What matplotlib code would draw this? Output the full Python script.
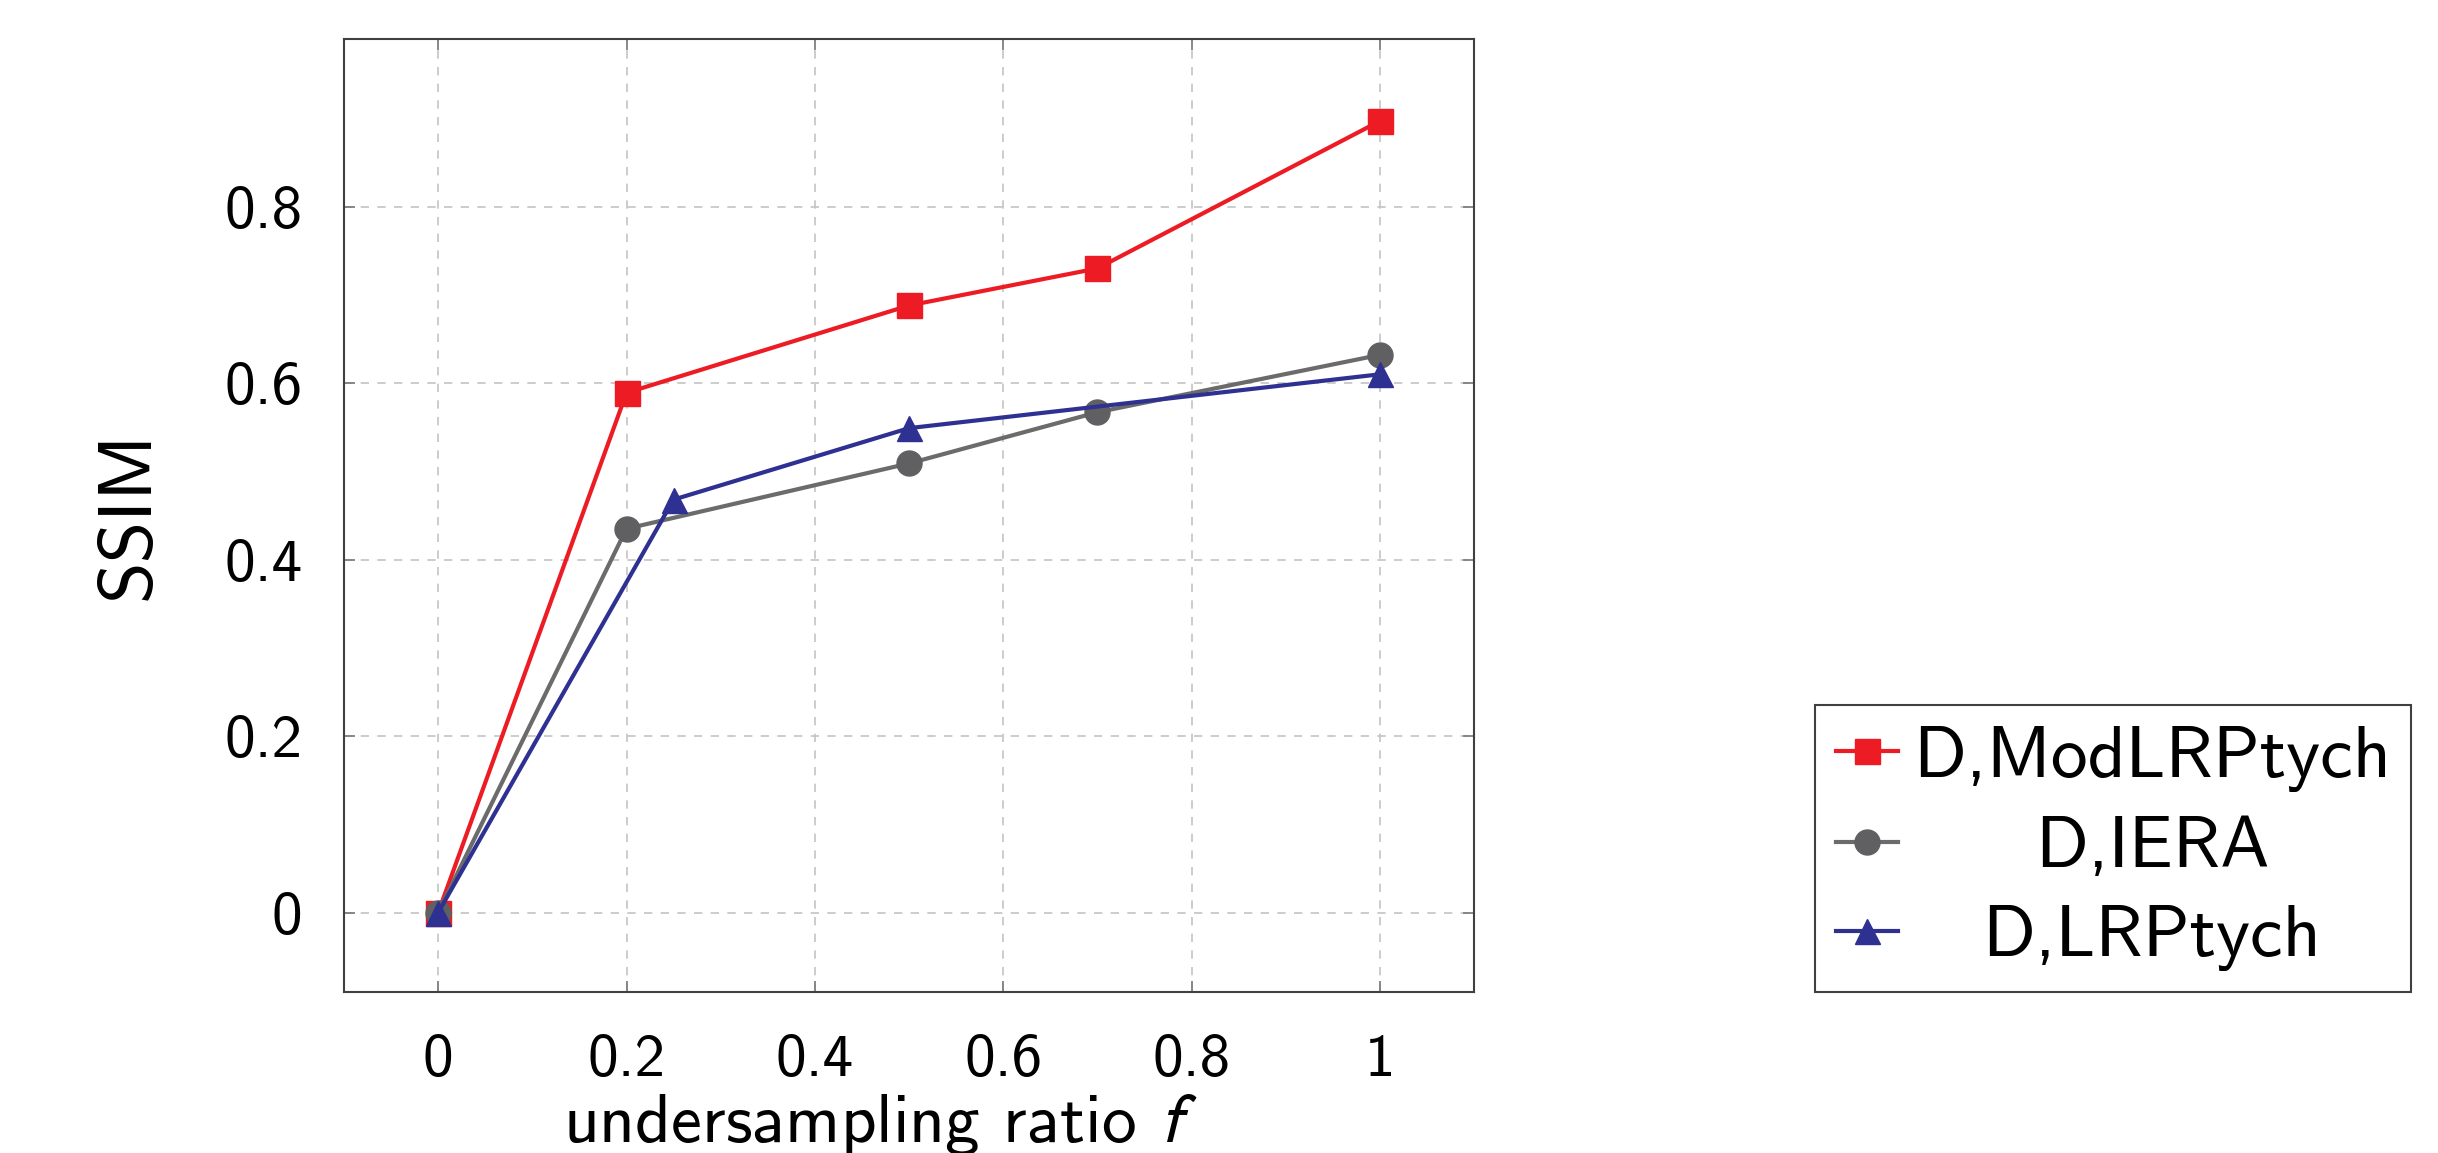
import matplotlib
matplotlib.use("Agg")
from matplotlib import pyplot as plt

# values
f_mod = [0, 0.2, 0.5, 0.7, 1.0]
ssim_mod = [0.0, 0.589, 0.688, 0.730, 0.897]

f_iera = [0, 0.2, 0.5, 0.7, 1.0]
ssim_iera = [0.0, 0.435, 0.509, 0.567, 0.632]

f_lrp = [0, 0.25, 0.5, 1.0]
ssim_lrp = [0.0, 0.468, 0.549, 0.610]

labels = ["D,ModLRPtych", "D,IERA", "D,LRPtych"]
xticks = [0, 0.2, 0.4, 0.6, 0.8, 1]
yticks = [0, 0.2, 0.4, 0.6, 0.8]

plt.rcParams["font.family"] = "cmss10"
plt.rcParams["mathtext.fontset"] = "stixsans"
plt.rcParams["axes.unicode_minus"] = False

fig = plt.figure(figsize=(24.38, 11.53), dpi=100)
ax = fig.add_axes([344 / 2438, 1 - 992 / 1153, (1474 - 344) / 2438, (992 - 39) / 1153])

ax.plot(f_mod, ssim_mod, color="#ed1c24", lw=3.0, marker="s", ms=18,
        mfc="#ed1c24", mec="#ed1c24", label=labels[0])
ax.plot(f_iera, ssim_iera, color="#6b6b6b", lw=3.0, marker="o", ms=18,
        mfc="#606062", mec="#606062", label=labels[1])
ax.plot(f_lrp, ssim_lrp, color="#2e3192", lw=3.0, marker="^", ms=18,
        mfc="#2e3192", mec="#2e3192", label=labels[2])

ax.set_xlim(-0.1, 1.1)
ax.set_ylim(-0.09, 0.99)
ax.set_xticks(xticks)
ax.set_xticklabels(["0", "0.2", "0.4", "0.6", "0.8", "1"])
ax.set_yticks(yticks)
ax.set_yticklabels(["0", "0.2", "0.4", "0.6", "0.8"])
ax.grid(True, color="#c4c4c4", lw=1.2, linestyle=(0, (5, 5)))
ax.set_axisbelow(True)
ax.tick_params(direction="in", top=True, right=True, length=8, width=1.3,
               color="#808080", labelsize=44, pad=30)
for s in ax.spines.values():
    s.set_color("#404040")
    s.set_linewidth(1.5)

ax.set_xlabel("undersampling ratio $f$", fontsize=50)
ax.xaxis.set_label_coords(0.475, -0.105)
ax.set_ylabel("SSIM", fontsize=54)
ax.yaxis.set_label_coords(-0.16, 0.5)

leg = fig.legend(loc="lower left", bbox_to_anchor=(1815 / 2438, 1 - 992 / 1153),
                 borderaxespad=0, fontsize=53, handlelength=0.85, handletextpad=0.2,
                 borderpad=0.28, labelspacing=0.32, numpoints=1, fancybox=False,
                 framealpha=1, edgecolor="#404040")
leg.get_frame().set_linewidth(1.5)

# centre the legend entries like the original
fig.canvas.draw()
r = fig.canvas.get_renderer()
texts = leg.get_texts()
widths = [t.get_window_extent(r).width for t in texts]
wmax = max(widths)
for t, w in zip(texts, widths):
    t.set_position(((wmax - w) / 2, 0))

fig.savefig("out.png", dpi=100)
